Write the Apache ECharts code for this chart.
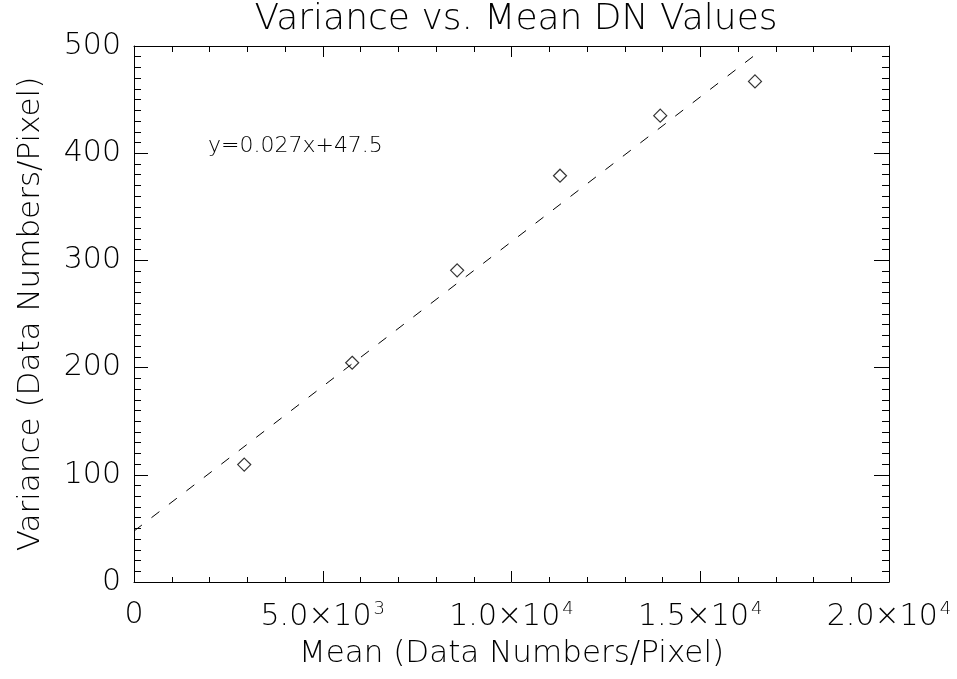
<!DOCTYPE html>
<html>
<head>
<meta charset="utf-8">
<script src="https://cdn.jsdelivr.net/npm/echarts@6/dist/echarts.min.js"></script>
<style>
html,body{margin:0;padding:0;background:#fff;}
#c{width:957px;height:679px;}
</style>
</head>
<body>
<div id="c"></div>
<script>
// Data
var meanValues = [2920, 5780, 8560, 11285, 13940, 16450];
var varianceValues = [109.5, 204.5, 290.7, 379, 435, 467];
var fitX = [0, 16450];
var fitY = [47.5, 491.6];
var fitLabel = 'y=0.027x+47.5';
var titleText = 'Variance vs. Mean DN Values';
var xName = 'Mean (Data Numbers/Pixel)';
var yName = 'Variance (Data Numbers/Pixel)';

var FONT = 'DejaVu Sans';
var points = meanValues.map(function (m, i) { return [m, varianceValues[i]]; });
var fitPts = fitX.map(function (x, i) { return [x, fitY[i]]; });

function xFmt(v) {
  if (v === 0) return '{m|0}';
  var s = v.toExponential(1).split('e');
  return '{m|' + s[0] + '×10}{e|' + parseInt(s[1], 10) + '}';
}

var axisCommon = {
  axisLine: { show: true, onZero: false, lineStyle: { color: '#000', width: 1 } },
  splitLine: { show: false },
  minorSplitLine: { show: false }
};

var chart = echarts.init(document.getElementById('c'), null, { renderer: 'canvas' });
chart.setOption({
  backgroundColor: '#fff',
  animation: false,
  title: {
    text: titleText,
    left: 511,
    textAlign: 'center',
    top: -3,
    textStyle: { fontFamily: FONT, fontSize: 36, fontWeight: 200, color: '#000' }
  },
  grid: { left: 134, right: 68, top: 46, bottom: 97, containLabel: false },
  xAxis: [
    Object.assign({}, axisCommon, {
      type: 'value', position: 'bottom', min: 0, max: 20000, interval: 5000,
      name: xName, nameLocation: 'middle', nameGap: 56,
      nameTextStyle: { fontFamily: FONT, fontSize: 31, fontWeight: 200, color: '#000', verticalAlign: 'top' },
      axisTick: { show: true, inside: true, length: 11, lineStyle: { color: '#000' } },
      minorTick: { show: true, splitNumber: 5, length: 5, lineStyle: { color: '#000' } },
      axisLabel: {
        margin: 18, color: '#000', formatter: xFmt,
        rich: {
          m: { fontFamily: FONT, fontSize: 30, fontWeight: 200, color: '#000' },
          e: { fontFamily: FONT, fontSize: 18, fontWeight: 200, color: '#000', padding: [0, 0, 16, 2] }
        }
      }
    }),
    Object.assign({}, axisCommon, {
      type: 'value', position: 'top', min: 0, max: 20000, interval: 5000,
      axisTick: { show: true, inside: true, length: 11, lineStyle: { color: '#000' } },
      minorTick: { show: true, splitNumber: 5, length: 6, lineStyle: { color: '#000' } },
      axisLabel: { show: false }
    })
  ],
  yAxis: [
    Object.assign({}, axisCommon, {
      type: 'value', position: 'left', min: 0, max: 500, interval: 100,
      name: yName, nameLocation: 'middle', nameGap: 88, nameRotate: 90,
      nameTextStyle: { fontFamily: FONT, fontSize: 31, fontWeight: 200, color: '#000' },
      axisTick: { show: true, inside: true, length: 14, lineStyle: { color: '#000' } },
      minorTick: { show: true, splitNumber: 10, length: 7, lineStyle: { color: '#000' } },
      axisLabel: { margin: 13, color: '#000', fontFamily: FONT, fontSize: 30, fontWeight: 200 }
    }),
    Object.assign({}, axisCommon, {
      type: 'value', position: 'right', min: 0, max: 500, interval: 100,
      axisTick: { show: true, inside: true, length: 15, lineStyle: { color: '#000' } },
      minorTick: { show: true, splitNumber: 10, length: 7, lineStyle: { color: '#000' } },
      axisLabel: { show: false }
    })
  ],
  series: [
    {
      type: 'line', xAxisIndex: 0, yAxisIndex: 0,
      data: fitPts, showSymbol: false, symbol: 'none', silent: true,
      lineStyle: { color: '#000', width: 1, type: [10, 12] },
      markPoint: {
        symbol: 'circle', symbolSize: 0,
        data: [{ coord: [1960, 406] }],
        label: {
          show: true, position: 'right', distance: 0, formatter: fitLabel,
          fontFamily: FONT, fontSize: 22, fontWeight: 200, color: '#000'
        }
      }
    },
    {
      type: 'scatter', xAxisIndex: 0, yAxisIndex: 0,
      data: points, symbol: 'diamond', symbolSize: 13,
      itemStyle: { color: 'rgba(0,0,0,0)', borderColor: '#000', borderWidth: 1.2 }
    }
  ]
});
</script>
</body>
</html>
